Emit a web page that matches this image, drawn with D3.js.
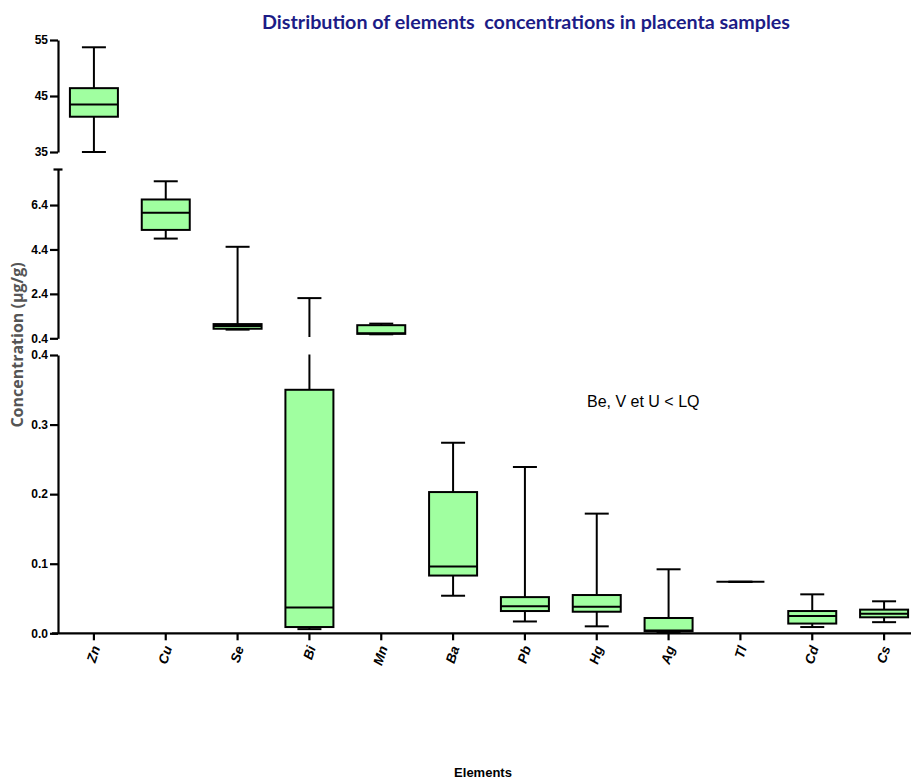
<!DOCTYPE html>
<html>
<head>
<meta charset="utf-8">
<script src="https://cdn.jsdelivr.net/npm/d3@7"></script>
<style>
  html, body { margin: 0; padding: 0; background: #fff; }
  svg { display: block; }
</style>
</head>
<body>
<svg id="chart" width="911" height="780"></svg>
<script>
// Element concentrations (µg/g) in placenta samples: five-number summaries
const categories = ["Zn", "Cu", "Se", "Bi", "Mn", "Ba", "Pb", "Hg", "Ag", "Tl", "Cd", "Cs"];
const minVals    = [35.0, 4.89, 0.79, 0.006, 0.58, 0.054, 0.017, 0.010, 0.001, 0.074, 0.009, 0.016];
const q1Vals     = [41.3, 5.28, 0.83, 0.009, 0.60, 0.083, 0.032, 0.031, 0.003, 0.074, 0.014, 0.023];
const medianVals = [43.5, 6.05, 0.95, 0.037, 0.63, 0.096, 0.039, 0.038, 0.004, 0.074, 0.025, 0.028];
const q3Vals     = [46.4, 6.65, 1.04, 0.350, 0.99, 0.203, 0.052, 0.055, 0.022, 0.074, 0.032, 0.034];
const maxVals    = [53.7, 7.47, 4.52, 2.21, 1.06, 0.274, 0.239, 0.172, 0.092, 0.074, 0.056, 0.046];

// Broken y axis: three segments, each with its own ticks
const topTicks = [35, 45, 55];
const midTicks = [0.4, 2.4, 4.4, 6.4];
const botTicks = [0, 0.1, 0.2, 0.3, 0.4];

const titleText = "Distribution of elements  concentrations in placenta samples";
const yTitle = "Concentration (µg/g)";
const xTitle = "Elements";
const noteText = "Be, V et U < LQ";

const svg = d3.select("#chart");
const axisX = 58;
const baseY = 633.3;

const x = d3.scaleBand().domain(categories).range([axisX, 920]).paddingInner(0).paddingOuter(0);
const boxW = 48, capW = 24;

const segments = [
  { name: "top", scale: d3.scaleLinear().domain([35, 55]).range([152, 40]), ticks: topTicks, fmt: d3.format("d"), clip: [37, 155] },
  { name: "mid", scale: d3.scaleLinear().domain([0.4, 8]).range([338.3, 169.5]), ticks: midTicks, fmt: d3.format(".1f"), clip: [167, 337] },
  { name: "bot", scale: d3.scaleLinear().domain([0, 0.4]).range([baseY, 355]), ticks: botTicks, fmt: d3.format(".1f"), clip: [354.5, 636] }
];

const data = categories.map((c, i) => ({
  cat: c, min: minVals[i], q1: q1Vals[i], med: medianVals[i], q3: q3Vals[i], max: maxVals[i]
}));

const defs = svg.append("defs");
segments.forEach(seg => {
  defs.append("clipPath").attr("id", "clip-" + seg.name)
    .append("rect")
    .attr("x", axisX + 1).attr("y", seg.clip[0])
    .attr("width", 911 - axisX).attr("height", seg.clip[1] - seg.clip[0]);
});

// Boxes: every segment draws the full set, clipped to its own band
segments.forEach(seg => {
  const y = seg.scale;
  const g = svg.append("g").attr("clip-path", `url(#clip-${seg.name})`);
  const items = g.selectAll("g.box").data(data).join("g").attr("class", "box")
    .attr("transform", d => `translate(${x(d.cat) + x.bandwidth() / 2},0)`);

  items.append("line")
    .attr("x1", 0).attr("x2", 0)
    .attr("y1", d => y(d.max)).attr("y2", d => y(d.q3))
    .attr("stroke", "#000").attr("stroke-width", 2);
  items.append("line")
    .attr("x1", 0).attr("x2", 0)
    .attr("y1", d => y(d.q1)).attr("y2", d => y(d.min))
    .attr("stroke", "#000").attr("stroke-width", 2);
  items.append("line")
    .attr("x1", -capW / 2).attr("x2", capW / 2)
    .attr("y1", d => y(d.max)).attr("y2", d => y(d.max))
    .attr("stroke", "#000").attr("stroke-width", 2);
  items.append("line")
    .attr("x1", -capW / 2).attr("x2", capW / 2)
    .attr("y1", d => y(d.min)).attr("y2", d => y(d.min))
    .attr("stroke", "#000").attr("stroke-width", 2);
  items.append("rect")
    .attr("x", -boxW / 2).attr("width", boxW)
    .attr("y", d => y(d.q3)).attr("height", d => Math.max(0, y(d.q1) - y(d.q3)))
    .attr("fill", "#a0ffa0").attr("stroke", "#000").attr("stroke-width", 2);
  items.append("line")
    .attr("x1", -boxW / 2).attr("x2", boxW / 2)
    .attr("y1", d => y(d.med)).attr("y2", d => y(d.med))
    .attr("stroke", "#000").attr("stroke-width", 2);
});

// Y axis segments
segments.forEach(seg => {
  const ax = svg.append("g")
    .attr("transform", `translate(${axisX},0)`)
    .call(d3.axisLeft(seg.scale).tickValues(seg.ticks).tickFormat(seg.fmt).tickSizeOuter(0).tickSizeInner(8).tickPadding(2));
  ax.select(".domain").attr("stroke", "#000").attr("stroke-width", 2.2);
  ax.selectAll(".tick line").attr("stroke", "#000").attr("stroke-width", 2.2);
  ax.selectAll(".tick text")
    .attr("fill", "#000")
    .style("font-family", "'Liberation Sans', Arial, sans-serif")
    .style("font-weight", "bold")
    .style("font-size", "12px");
});
// break cap at the top of the middle segment
const midTop = segments[1].scale.range()[1];
svg.append("line")
  .attr("x1", axisX - 4.5).attr("x2", axisX + 4.5)
  .attr("y1", midTop).attr("y2", midTop)
  .attr("stroke", "#000").attr("stroke-width", 2.2);

// X axis
const xAxis = svg.append("g")
  .attr("transform", `translate(0,${baseY})`)
  .call(d3.axisBottom(x).tickSizeOuter(0).tickSizeInner(7).tickFormat(""));
xAxis.select(".domain").attr("stroke", "#000").attr("stroke-width", 2.2)
  .attr("d", `M${axisX - 6},0H911`);
xAxis.selectAll(".tick line").attr("stroke", "#000").attr("stroke-width", 2.2);

svg.append("g").selectAll("text").data(categories).join("text")
  .attr("transform", d => `translate(${x(d) + x.bandwidth() / 2 + 2},${baseY + 13}) rotate(-72)`)
  .attr("text-anchor", "end")
  .attr("dy", "0.35em")
  .style("font-family", "'Liberation Sans', Arial, sans-serif")
  .style("font-weight", "bold")
  .style("font-style", "italic")
  .style("font-size", "13.5px")
  .text(d => d);

// Titles and note
svg.append("text")
  .attr("x", 526).attr("y", 29)
  .attr("text-anchor", "middle")
  .attr("fill", "#1c1c86")
  .attr("textLength", 528)
  .attr("lengthAdjust", "spacingAndGlyphs")
  .style("white-space", "pre")
  .style("font-family", "Lato, 'Open Sans', sans-serif")
  .style("font-weight", "bold")
  .style("font-size", "19px")
  .text(titleText);

svg.append("text")
  .attr("transform", "translate(23,345) rotate(-90)")
  .attr("text-anchor", "middle")
  .attr("fill", "#555")
  .style("font-family", "'Open Sans', 'Liberation Sans', sans-serif")
  .style("font-weight", "bold")
  .style("font-size", "16px")
  .text(yTitle);

svg.append("text")
  .attr("x", 483).attr("y", 777)
  .attr("text-anchor", "middle")
  .style("font-family", "'Liberation Sans', Arial, sans-serif")
  .style("font-weight", "bold")
  .style("font-size", "13px")
  .text(xTitle);

svg.append("text")
  .attr("x", 587).attr("y", 407)
  .style("font-family", "'Liberation Sans', Arial, sans-serif")
  .style("font-size", "16px")
  .text(noteText);
</script>
</body>
</html>
